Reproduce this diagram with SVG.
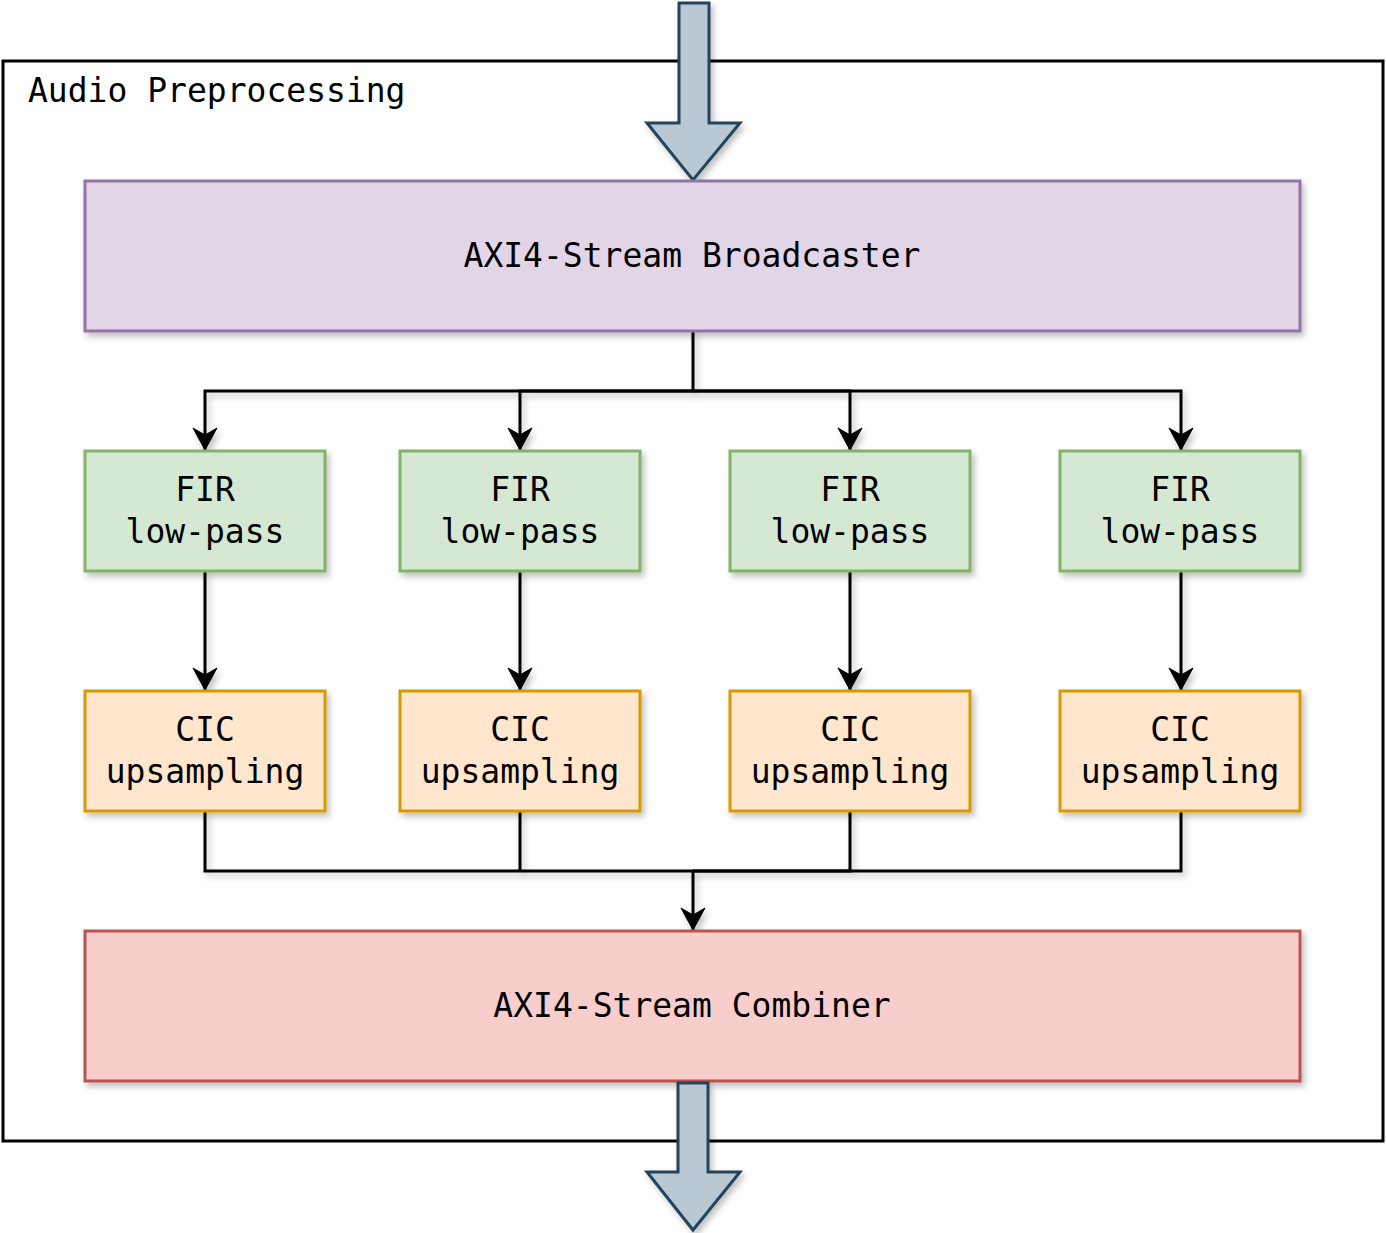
<svg xmlns="http://www.w3.org/2000/svg" width="1386" height="1233" viewBox="0 0 1386 1233">
<defs>
<filter id="sh" x="-10%" y="-10%" width="130%" height="140%">
<feDropShadow dx="3" dy="4" stdDeviation="3" flood-color="#000" flood-opacity="0.25"/>
</filter>
<marker id="ah" markerUnits="userSpaceOnUse" markerWidth="26" markerHeight="26" viewBox="0 0 26 26" refX="24" refY="13" orient="auto">
<path d="M2,1 L9,13 L2,25 L24,13 Z" fill="#000" stroke="#000" stroke-width="1"/>
</marker>
</defs>
<style>
text{font-family:"DejaVu Sans Mono","Liberation Mono",monospace;font-size:33px;fill:#000;text-anchor:middle}
.bx{stroke-width:3}
.fir{fill:#d5e8d4;stroke:#82b366}
.cic{fill:#ffe6cc;stroke:#d79b00}
.con path{fill:none;stroke:#000;stroke-width:3}
.big{fill:#bac8d3;stroke:#23445d;stroke-width:3}
</style>
<g id="container">
<rect x="3" y="61" width="1380" height="1080" fill="#fff" stroke="#000" stroke-width="3"/>
<text x="28" y="102" style="text-anchor:start">Audio Preprocessing</text>
</g>
<g id="in-arrow" filter="url(#sh)">
<path class="big" d="M679,3 L709,3 L709,123 L740,123 L693,180 L647,123 L679,123 Z"/>
</g>
<g class="con" filter="url(#sh)">
<path d="M693,331 V391 H205 V450" marker-end="url(#ah)"/>
<path d="M693,391 H520 V450" marker-end="url(#ah)"/>
<path d="M693,391 H850 V450" marker-end="url(#ah)"/>
<path d="M693,391 H1181 V450" marker-end="url(#ah)"/>
<path d="M205,571 V690" marker-end="url(#ah)"/>
<path d="M520,571 V690" marker-end="url(#ah)"/>
<path d="M850,571 V690" marker-end="url(#ah)"/>
<path d="M1181,571 V690" marker-end="url(#ah)"/>
<path d="M205,811 V871 H693 V930" marker-end="url(#ah)"/>
<path d="M520,811 V871"/>
<path d="M850,811 V871 H693"/>
<path d="M1181,811 V871 H693"/>
</g>
<g id="broadcaster">
<rect class="bx" x="85" y="181" width="1215" height="150" fill="#e1d5e7" stroke="#9673a6" filter="url(#sh)"/>
<text x="692" y="267">AXI4-Stream Broadcaster</text>
</g>
<g id="fir1"><rect class="bx fir" x="85" y="451" width="240" height="120" filter="url(#sh)"/><text x="205" y="501">FIR</text><text x="205" y="543">low-pass</text></g>
<g id="fir2"><rect class="bx fir" x="400" y="451" width="240" height="120" filter="url(#sh)"/><text x="520" y="501">FIR</text><text x="520" y="543">low-pass</text></g>
<g id="fir3"><rect class="bx fir" x="730" y="451" width="240" height="120" filter="url(#sh)"/><text x="850" y="501">FIR</text><text x="850" y="543">low-pass</text></g>
<g id="fir4"><rect class="bx fir" x="1060" y="451" width="240" height="120" filter="url(#sh)"/><text x="1180" y="501">FIR</text><text x="1180" y="543">low-pass</text></g>
<g id="cic1"><rect class="bx cic" x="85" y="691" width="240" height="120" filter="url(#sh)"/><text x="205" y="741">CIC</text><text x="205" y="783">upsampling</text></g>
<g id="cic2"><rect class="bx cic" x="400" y="691" width="240" height="120" filter="url(#sh)"/><text x="520" y="741">CIC</text><text x="520" y="783">upsampling</text></g>
<g id="cic3"><rect class="bx cic" x="730" y="691" width="240" height="120" filter="url(#sh)"/><text x="850" y="741">CIC</text><text x="850" y="783">upsampling</text></g>
<g id="cic4"><rect class="bx cic" x="1060" y="691" width="240" height="120" filter="url(#sh)"/><text x="1180" y="741">CIC</text><text x="1180" y="783">upsampling</text></g>
<g id="combiner">
<rect class="bx" x="85" y="931" width="1215" height="150" fill="#f8cecc" stroke="#b85450" filter="url(#sh)"/>
<text x="692" y="1017">AXI4-Stream Combiner</text>
</g>
<g id="out-arrow" filter="url(#sh)">
<path class="big" d="M678,1083 L708,1083 L708,1172 L740,1172 L693,1230 L647,1172 L678,1172 Z"/>
</g>
</svg>
